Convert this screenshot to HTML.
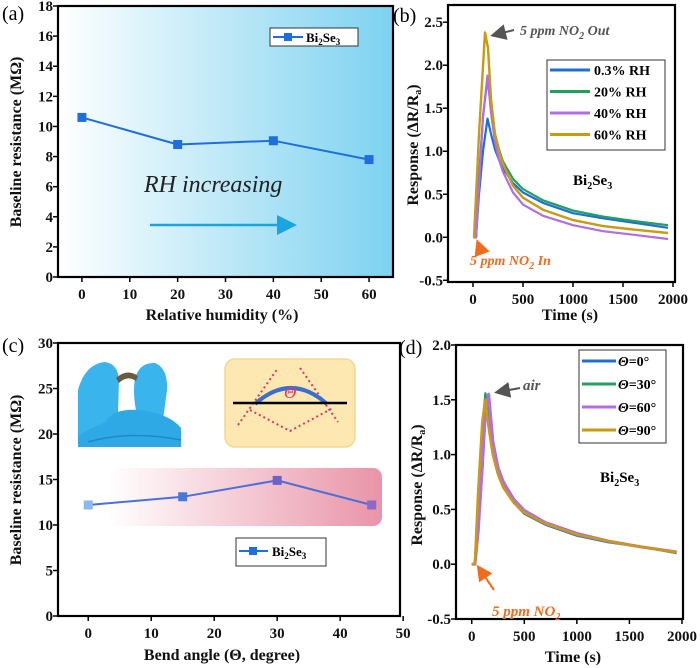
<!DOCTYPE html>
<html><head><meta charset="utf-8"><style>
html,body{margin:0;padding:0;background:#fff}
svg{display:block;font-family:"Liberation Serif",serif}
.tk{font-size:15px;font-weight:bold;fill:#111}
.lab{font-size:16px;font-weight:bold;fill:#111}
</style></head><body>
<svg id="fig" width="700" height="668" viewBox="0 0 700 668" xmlns="http://www.w3.org/2000/svg">
<defs>
<linearGradient id="gA" x1="0" x2="1" y1="0" y2="0"><stop offset="0" stop-color="#ffffff"/><stop offset="1" stop-color="#7dd2f0"/></linearGradient>
<linearGradient id="gC" x1="0" x2="1" y1="0" y2="0"><stop offset="0" stop-color="#ffffff"/><stop offset="1" stop-color="#e994a8"/></linearGradient>
<marker id="arB" markerWidth="8" markerHeight="8" refX="6" refY="4" orient="auto"><path d="M0,0 L8,4 L0,8 z" fill="#1aa5e0"/></marker>
<marker id="arG" markerWidth="8" markerHeight="8" refX="6" refY="4" orient="auto"><path d="M0,0 L8,4 L0,8 z" fill="#555"/></marker>
<marker id="arO" markerWidth="8" markerHeight="8" refX="6" refY="4" orient="auto"><path d="M0,0 L8,4 L0,8 z" fill="#f26b1d"/></marker>
</defs>
<g id="root"></g>
</svg>
<script>
// Panel (a)
const aX=[0,20,40,60];
const aY=[10.6,8.8,9.05,7.8];
const aXTicks=[0,10,20,30,40,50,60];
const aYTicks=[0,2,4,6,8,10,12,14,16,18];
// Panel (b)
const bT1=[0,30,60,100,145,180,220,260,300,400,500,700,1000,1300,1600,1950];
const bBlue=[0,0,0.5,1.0,1.38,1.2,1.02,0.9,0.8,0.63,0.52,0.4,0.28,0.22,0.17,0.11];
const bGreen=[0,0,0.7,1.4,1.85,1.5,1.2,1.02,0.88,0.68,0.56,0.43,0.31,0.24,0.19,0.14];
const bPurple=[0,0,0.6,1.4,1.88,1.45,1.1,0.9,0.76,0.52,0.38,0.25,0.14,0.07,0.03,-0.02];
const bT2=[0,10,60,120,150,180,220,260,300,400,500,700,1000,1300,1600,1950];
const bYellow=[0,0,1.2,2.38,2.2,1.6,1.2,1.0,0.85,0.6,0.46,0.32,0.2,0.13,0.09,0.05];
const bXTicks=[0,500,1000,1500,2000];
const bYTicks=[-0.5,0,0.5,1.0,1.5,2.0,2.5];
// Panel (c)
const cX=[0,15,30,45];
const cY=[12.2,13.1,14.9,12.2];
const cXTicks=[0,10,20,30,40,50];
const cYTicks=[0,5,10,15,20,25,30];
// Panel (d)
const dT=[0,30,60,100,130,160,200,250,300,400,500,700,1000,1300,1600,1950];
const d0=[0,0,0.55,1.2,1.55,1.3,1.0,0.82,0.7,0.56,0.46,0.36,0.26,0.2,0.16,0.11];
const d30=[0,0,0.6,1.25,1.56,1.35,1.04,0.84,0.72,0.57,0.48,0.37,0.27,0.21,0.16,0.1];
const d60=[0,0,0.3,0.9,1.4,1.55,1.12,0.88,0.75,0.59,0.49,0.38,0.28,0.21,0.16,0.11];
const d90=[0,0,0.65,1.3,1.5,1.25,1.0,0.82,0.7,0.56,0.47,0.37,0.27,0.21,0.16,0.11];
const dXTicks=[0,500,1000,1500,2000];
const dYTicks=[-0.5,0,0.5,1.0,1.5,2.0];

const NS="http://www.w3.org/2000/svg";
const root=document.getElementById('root');
function mk(tag,attrs,parent,text){const e=document.createElementNS(NS,tag);for(const k in attrs)e.setAttribute(k,attrs[k]);if(text!==undefined)e.textContent=text;(parent||root).appendChild(e);return e;}
function scale(d0,d1,r0,r1){return v=>r0+(v-d0)/(d1-d0)*(r1-r0);}
function fmt(v,dec){return dec?v.toFixed(1):String(v);}
function axes(g,L,T,R,B,sx,sy,xt,yt,dec,name){
  for(const v of xt){const x=sx(v);
    const t=mk('line',{x1:x,x2:x,y1:B,y2:B+5,stroke:'#000','stroke-width':1.5},g);
    
    const l=mk('text',{x:x,y:B+22,'text-anchor':'middle',class:'tk'},g,fmt(v,false));
    }
  for(const v of yt){const y=sy(v);
    const t=mk('line',{x1:L,x2:L-5,y1:y,y2:y,stroke:'#000','stroke-width':1.5},g);
    
    const l=mk('text',{x:L-5,y:y+5,'text-anchor':'end',class:'tk'},g,fmt(v,dec));
    }
  const f=mk('rect',{x:L,y:T,width:R-L,height:B-T,fill:'none',stroke:'#000','stroke-width':2.2},g);
  
}
function path(g,xs,ys,sx,sy,col,w,name){
  let d='';for(let i=0;i<xs.length;i++)d+=(i?'L':'M')+sx(xs[i]).toFixed(1)+','+sy(ys[i]).toFixed(1);
  const p=mk('path',{d:d,fill:'none',stroke:col,'stroke-width':w,'stroke-linejoin':'round'},g);
  return p;
}
function grp(name){const g=mk('g',{});return g;}

// ---------- (a)
{const g=grp('panel-a');const L=58,T=6,R=393,B=277;
 const sx=scale(-5,65,L,R),sy=scale(0,18,B,T);
 const bg=mk('rect',{x:L,y:T,width:R-L,height:B-T,fill:'url(#gA)'},g);
 axes(g,L,T,R,B,sx,sy,aXTicks,aYTicks,false,'a');
 path(g,aX,aY,sx,sy,'#1d6fe0',2,'a-series-line');
 aX.forEach((v,i)=>{const m=mk('rect',{x:sx(v)-4.5,y:sy(aY[i])-4.5,width:9,height:9,fill:'#1d6fe0'},g);});
 const lg=mk('g',{},g);
 mk('rect',{x:270,y:28,width:88,height:18,fill:'#fff',stroke:'#333','stroke-width':1},lg);
 mk('line',{x1:273,x2:303,y1:37,y2:37,stroke:'#1d6fe0','stroke-width':2},lg);
 mk('rect',{x:284,y:33,width:8,height:8,fill:'#1d6fe0'},lg);
 const lt=mk('text',{x:306,y:42,'font-size':13,'font-weight':'bold'},lg);lt.innerHTML='Bi<tspan font-size="9" dy="3">2</tspan><tspan dy="-3">Se</tspan><tspan font-size="9" dy="3">3</tspan>';
 const rh=mk('text',{x:144,y:192,'font-size':24,'font-style':'italic',fill:'#222'},g,'RH increasing');
 const ar=mk('line',{x1:150,y1:225,x2:292,y2:225,stroke:'#1aa5e0','stroke-width':2.5,'marker-end':'url(#arB)'},g);
 const xl=mk('text',{x:222,y:320,'text-anchor':'middle',class:'lab'},g,'Relative humidity (%)');
 const yl=mk('text',{x:0,y:0,'text-anchor':'middle',class:'lab',transform:'translate(21,142) rotate(-90)'},g,'Baseline resistance (MΩ)');
 const pl=mk('text',{x:2,y:20,'font-size':20},g,'(a)');
}
// ---------- (b)
{const g=grp('panel-b');const L=448,T=5,R=675,B=282;
 const sx=scale(-250,2020,L,R),sy=scale(-0.52,2.7,B,T);
 axes(g,L,T,R,B,sx,sy,bXTicks,bYTicks,true,'b');
 path(g,bT1,bBlue,sx,sy,'#1f6fd6',2.2,'b-series-0.3rh');
 path(g,bT1,bGreen,sx,sy,'#22a060',2.2,'b-series-20rh');
 path(g,bT1,bPurple,sx,sy,'#b06ee6',2.2,'b-series-40rh');
 path(g,bT2,bYellow,sx,sy,'#c99a12',2.4,'b-series-60rh');
 const lg=mk('g',{},g);
 mk('rect',{x:547,y:60,width:118,height:90,fill:'#fff',stroke:'#333','stroke-width':1},lg);
 [['0.3% RH','#1f6fd6'],['20% RH','#22a060'],['40% RH','#b06ee6'],['60% RH','#c99a12']].forEach((e,i)=>{const y=70+i*21.5;
  mk('line',{x1:550,x2:590,y1:y,y2:y,stroke:e[1],'stroke-width':3},lg);mk('text',{x:594,y:y+5,'font-size':14,'font-weight':'bold'},lg,e[0]);});
 const o=mk('text',{x:520,y:35,'font-size':14,'font-style':'italic','font-weight':'bold',fill:'#555'},g);o.innerHTML='5 ppm NO<tspan font-size="10" dy="4">2</tspan><tspan dy="-4"> Out</tspan>';
 mk('line',{x1:514,y1:30,x2:494,y2:35,stroke:'#555','stroke-width':2,'marker-end':'url(#arG)'},g);
 const i=mk('text',{x:470,y:265,'font-size':14,'font-style':'italic','font-weight':'bold',fill:'#f26b1d'},g);i.innerHTML='5 ppm NO<tspan font-size="10" dy="4">2</tspan><tspan dy="-4"> In</tspan>';
 mk('line',{x1:482,y1:254,x2:478,y2:243,stroke:'#f26b1d','stroke-width':2,'marker-end':'url(#arO)'},g);
 const bs=mk('text',{x:573,y:185,'font-size':15,'font-weight':'bold'},g);bs.innerHTML='Bi<tspan font-size="10" dy="4">2</tspan><tspan dy="-4">Se</tspan><tspan font-size="10" dy="4">3</tspan>';
 const xl=mk('text',{x:570,y:320,'text-anchor':'middle',class:'lab'},g,'Time (s)');
 const yl=mk('text',{x:0,y:0,'text-anchor':'middle',class:'lab',transform:'translate(418,145) rotate(-90)'},g);yl.innerHTML='Response (ΔR/R<tspan font-size="10" dy="3">a</tspan><tspan dy="-3">)</tspan>';
 const pl=mk('text',{x:393,y:22,'font-size':20},g,'(b)');
}
// ---------- (c)
{const g=grp('panel-c');const L=58,T=343,R=400,B=616;
 const sx=scale(-4.8,49.5,L,R),sy=scale(0,30,B,T);
 const band=mk('rect',{x:108,y:468,width:274,height:58,rx:9,fill:'url(#gC)'},g);
 axes(g,L,T,R,B,sx,sy,cXTicks,cYTicks,false,'c');
 path(g,cX,cY,sx,sy,'#4c6fd8',2,'c-series-line');
 const pc=['#8ab8f0','#4a78d8','#6a62c8','#8a6ac8'];
 cX.forEach((v,i)=>{const m=mk('rect',{x:sx(v)-4.5,y:sy(cY[i])-4.5,width:9,height:9,fill:pc[i%4]},g);});
 const lg=mk('g',{},g);
 mk('rect',{x:236,y:538,width:90,height:28,fill:'#fff',stroke:'#333','stroke-width':1},lg);
 mk('line',{x1:239,x2:268,y1:551,y2:551,stroke:'#1d6fe0','stroke-width':2},lg);
 mk('rect',{x:249,y:547,width:8,height:8,fill:'#1d6fe0'},lg);
 const lt=mk('text',{x:272,y:556,'font-size':13,'font-weight':'bold'},lg);lt.innerHTML='Bi<tspan font-size="9" dy="3">2</tspan><tspan dy="-3">Se</tspan><tspan font-size="9" dy="3">3</tspan>';
 // glove photo
 const ph=mk('g',{},g);
 mk('path',{d:'M78,390 Q85,364 105,362 Q118,364 119,380 L118,412 L110,425 L78,447 Z',fill:'#3ab4ec'},ph);
 mk('path',{d:'M135,378 Q140,362 155,363 Q168,368 167,390 L163,420 L138,418 Q132,398 135,378 Z',fill:'#3ab4ec'},ph);
 mk('path',{d:'M116,378 Q127,368 138,376 L136,381 Q127,375 119,383 Z',fill:'#6a5a40'},ph);
 mk('path',{d:'M106,422 Q112,408 140,410 Q170,414 181,428 L181,447 L78,447 L78,436 Q90,428 106,422 Z',fill:'#2fa8e6'},ph);
 mk('path',{d:'M88,442 Q130,430 181,440',fill:'none',stroke:'#1f88c8','stroke-width':1.5},ph);
 // bend schematic
 const sc=mk('g',{},g);
 mk('rect',{x:225,y:359,width:130,height:88,rx:10,fill:'#fde8b2',stroke:'#f5d890','stroke-width':1.5},sc);
 mk('path',{d:'M238,425 L278,368 M300,368 L338,422 M250,410 L290,431 L333,408',fill:'none',stroke:'#e0356a','stroke-width':2,'stroke-dasharray':'2,3'},sc);
 mk('path',{d:'M255,404 Q291,372 327,404',fill:'none',stroke:'#3a6fd0','stroke-width':4},sc);
 mk('line',{x1:233,x2:347,y1:403,y2:403,stroke:'#000','stroke-width':2.5},sc);
 mk('text',{x:284,y:398,'font-size':17,'font-style':'italic',fill:'#e0356a'},sc,'Θ');
 const xl=mk('text',{x:222,y:660,'text-anchor':'middle',class:'lab'},g,'Bend angle  (Θ, degree)');
 const yl=mk('text',{x:0,y:0,'text-anchor':'middle',class:'lab',transform:'translate(21,480) rotate(-90)'},g,'Baseline resistance (MΩ)');
 const pl=mk('text',{x:2,y:352,'font-size':20},g,'(c)');
}
// ---------- (d)
{const g=grp('panel-d');const L=456,T=345,R=683,B=619;
 const sx=scale(-150,2010,L,R),sy=scale(-0.5,2.0,B,T);
 axes(g,L,T,R,B,sx,sy,dXTicks,dYTicks,true,'d');
 path(g,dT,d0,sx,sy,'#1f6fd6',2.2,'d-series-0deg');
 path(g,dT,d30,sx,sy,'#22a060',2.2,'d-series-30deg');
 path(g,dT,d60,sx,sy,'#b06ee6',3.2,'d-series-60deg');
 path(g,dT,d90,sx,sy,'#c99a12',2.6,'d-series-90deg');
 const lg=mk('g',{},g);
 mk('rect',{x:579,y:350,width:87,height:93,fill:'#fff',stroke:'#333','stroke-width':1},lg);
 [['=0°','#1f6fd6'],['=30°','#22a060'],['=60°','#b06ee6'],['=90°','#c99a12']].forEach((e,i)=>{const y=361+i*23;
  mk('line',{x1:582,x2:616,y1:y,y2:y,stroke:e[1],'stroke-width':3},lg);const t=mk('text',{x:618,y:y+5,'font-size':14,'font-weight':'bold'},lg);t.innerHTML='<tspan font-style="italic">Θ</tspan>'+e[0];});
 const a=mk('text',{x:523,y:390,'font-size':15,'font-style':'italic','font-weight':'bold',fill:'#555'},g,'air');
 mk('line',{x1:520,y1:388,x2:498,y2:392,stroke:'#555','stroke-width':2,'marker-end':'url(#arG)'},g);
 const n=mk('text',{x:492,y:616,'font-size':15,'font-style':'italic','font-weight':'bold',fill:'#f26b1d'},g);n.innerHTML='5 ppm NO<tspan font-size="10" dy="4">2</tspan>';
 mk('line',{x1:494,y1:590,x2:479,y2:568,stroke:'#f26b1d','stroke-width':2,'marker-end':'url(#arO)'},g);
 const bs=mk('text',{x:600,y:482,'font-size':15,'font-weight':'bold'},g);bs.innerHTML='Bi<tspan font-size="10" dy="4">2</tspan><tspan dy="-4">Se</tspan><tspan font-size="10" dy="4">3</tspan>';
 const xl=mk('text',{x:573,y:662,'text-anchor':'middle',class:'lab'},g,'Time (s)');
 const yl=mk('text',{x:0,y:0,'text-anchor':'middle',class:'lab',transform:'translate(422,485) rotate(-90)'},g);yl.innerHTML='Response (ΔR/R<tspan font-size="10" dy="3">a</tspan><tspan dy="-3">)</tspan>';
 const pl=mk('text',{x:399,y:354,'font-size':20},g,'(d)');
}
</script>
</body></html>
